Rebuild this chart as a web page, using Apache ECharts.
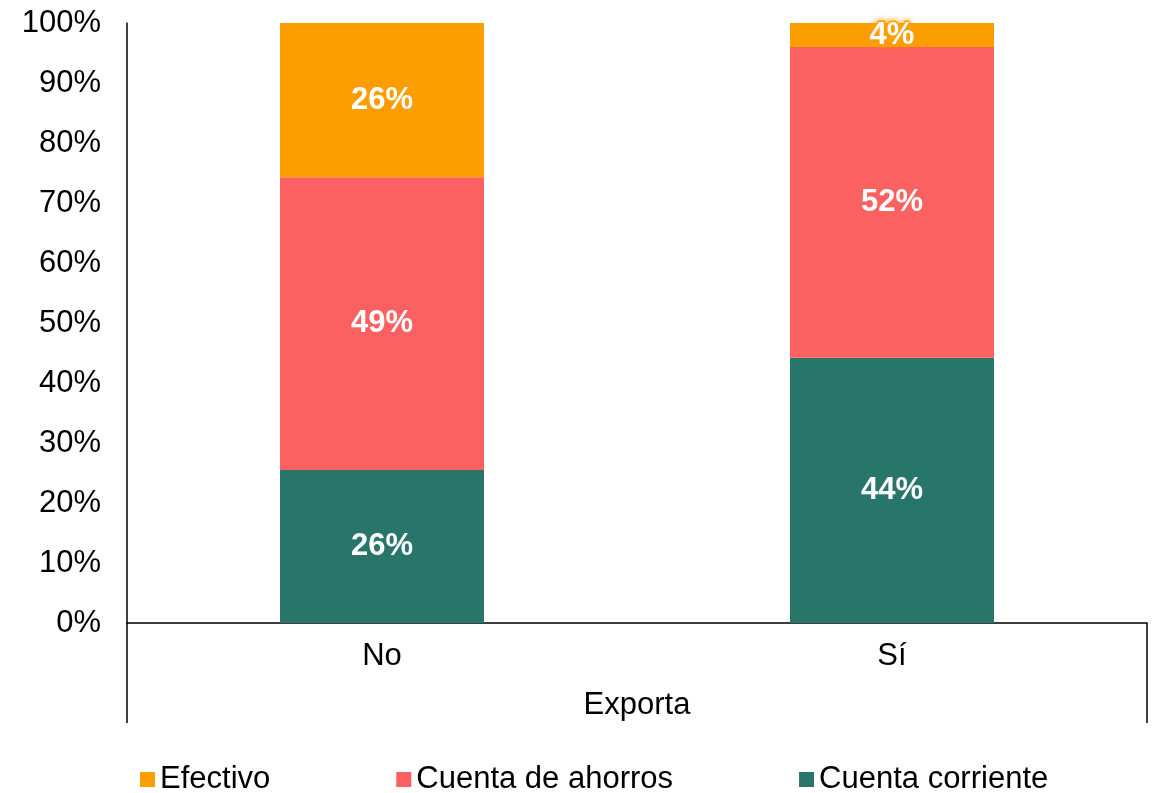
<!DOCTYPE html>
<html>
<head>
<meta charset="utf-8">
<script src="https://cdn.jsdelivr.net/npm/echarts@6/dist/echarts.min.js"></script>
<style>html,body{margin:0;padding:0;background:#fff;}#chart{width:1155px;height:793px;}</style>
</head>
<body>
<div id="chart"></div>
<script>
const categories = ['No', 'Sí'];
const cuentaCorriente = [25.5, 44.2];
const cuentaAhorros = [48.8, 51.8];
const efectivo = [25.7, 4.0];
const yTicks = [0, 10, 20, 30, 40, 50, 60, 70, 80, 90, 100];
const axisTitle = 'Exporta';

const FONT = 'Liberation Sans';
const FS = 31;
const colors = { efectivo: '#FC9E00', ahorros: '#FB6160', corriente: '#28766A' };

const chart = echarts.init(document.getElementById('chart'));
function lbl(extra) {
  return Object.assign({
    show: true, position: 'inside', color: '#fff', fontFamily: FONT, fontWeight: 'bold', fontSize: FS,
    formatter: p => Math.round(p.value) + '%'
  }, extra || {});
}
chart.setOption({
  animation: false,
  textStyle: { fontFamily: FONT },
  grid: { left: 127, right: 8, top: 23, bottom: 170 },
  legend: {
    data: ['Efectivo', 'Cuenta de ahorros', 'Cuenta corriente'],
    left: 135, top: 759, itemWidth: 15, itemHeight: 15, itemGap: 126,
    icon: 'rect',
    textStyle: { fontFamily: FONT, fontSize: FS, color: '#000', padding: [0, 0, 0, 0] }
  },
  xAxis: [{
    type: 'category', data: categories,
    axisLine: { lineStyle: { color: '#000', width: 1.5 } },
    axisTick: { show: false },
    axisLabel: { color: '#000', fontSize: FS, fontFamily: FONT, margin: 18 },
    name: axisTitle, nameLocation: 'middle', nameGap: 67,
    nameTextStyle: { color: '#000', fontSize: FS, fontFamily: FONT }
  }, {
    type: 'value', min: 0, max: 1, interval: 1, position: 'bottom',
    axisLine: { show: false },
    axisTick: { show: true, length: 100, lineStyle: { color: '#000', width: 1.5 } },
    axisLabel: { show: false }, splitLine: { show: false }
  }],
  yAxis: {
    type: 'value', min: 0, max: 100, interval: 10,
    axisLine: { show: true, lineStyle: { color: '#000', width: 1.5 } },
    axisTick: { show: false }, splitLine: { show: false },
    axisLabel: { color: '#000', fontSize: FS, fontFamily: FONT, margin: 26, formatter: v => v + '%' }
  },
  series: [
    { name: 'Cuenta corriente', type: 'bar', stack: 't', barWidth: '40%', data: cuentaCorriente,
      itemStyle: { color: colors.corriente }, label: lbl() },
    { name: 'Cuenta de ahorros', type: 'bar', stack: 't', data: cuentaAhorros,
      itemStyle: { color: colors.ahorros }, label: lbl() },
    { name: 'Efectivo', type: 'bar', stack: 't', data: efectivo,
      itemStyle: { color: colors.efectivo },
      label: lbl({ textBorderColor: colors.efectivo, textBorderWidth: 3, textShadowColor: colors.efectivo, textShadowBlur: 6 }) }
  ]
});
</script>
</body>
</html>
